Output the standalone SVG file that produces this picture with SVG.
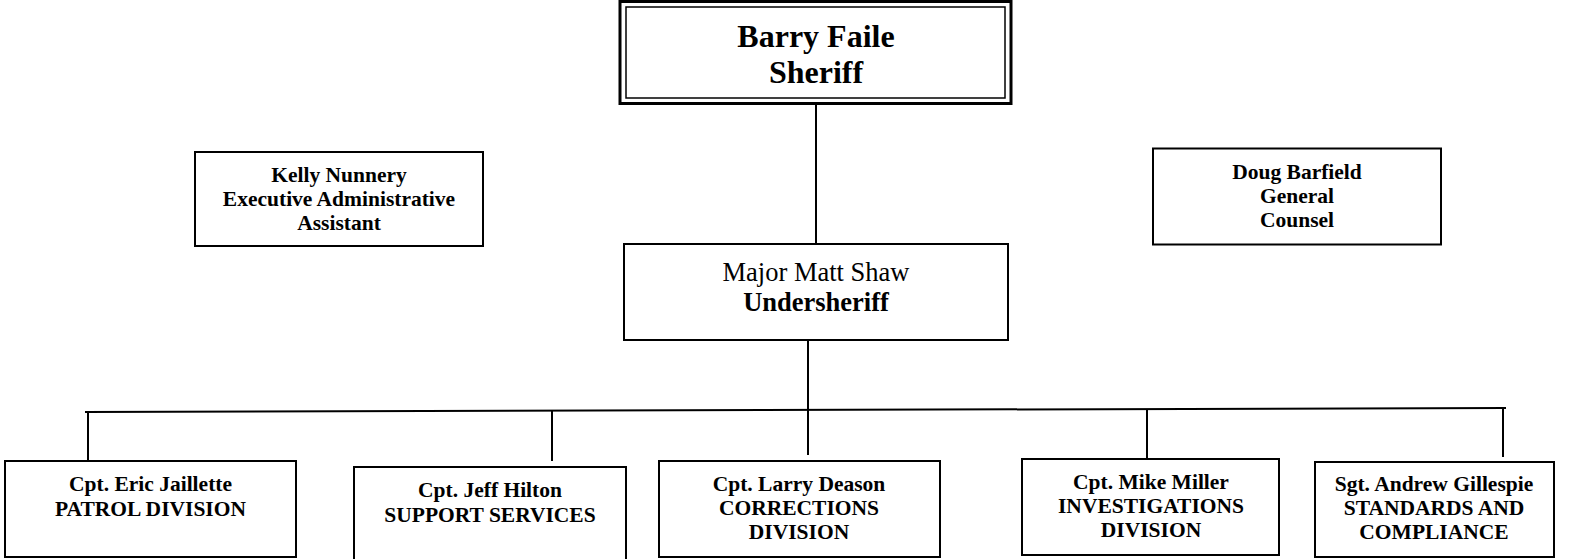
<svg xmlns="http://www.w3.org/2000/svg" width="1583" height="559" viewBox="0 0 1583 559">
<style>
.box{fill:#fff;stroke:#000;stroke-width:2}
.t{font-family:"Liberation Serif","Times New Roman",serif;font-weight:bold;font-size:21.5px;text-anchor:middle;fill:#000}
.big{font-size:32px}
.mid{font-size:26.5px}
.reg{font-weight:normal}
.ln{stroke:#000;stroke-width:2;fill:none}
</style>
<rect width="1583" height="559" fill="#fff"/>
<g id="connectors">
<line class="ln" x1="816" y1="104" x2="816" y2="244"/>
<line class="ln" x1="808" y1="340" x2="808" y2="455"/>
<line class="ln" x1="85" y1="412" x2="1506" y2="408"/>
<line class="ln" x1="88" y1="412" x2="88" y2="461"/>
<line class="ln" x1="552" y1="411" x2="552" y2="461"/>
<line class="ln" x1="1147" y1="410" x2="1147" y2="460"/>
<line class="ln" x1="1503" y1="408" x2="1503" y2="457"/>
</g>
<g id="sheriff">
<rect x="620" y="1.5" width="391" height="102" fill="#fff" stroke="#000" stroke-width="3"/>
<rect x="626" y="7" width="379" height="91" fill="none" stroke="#000" stroke-width="1.5"/>
<text class="t big" x="816" y="47">Barry Faile</text>
<text class="t big" x="816" y="83">Sheriff</text>
</g>
<g id="undersheriff">
<rect class="box" x="624" y="244" width="384" height="96"/>
<text class="t mid reg" x="816" y="281">Major Matt Shaw</text>
<text class="t mid" x="816" y="311">Undersheriff</text>
</g>
<g id="kelly">
<rect class="box" x="195" y="152" width="288" height="94"/>
<text class="t" x="339" y="182">Kelly Nunnery</text>
<text class="t" x="339" y="206">Executive Administrative</text>
<text class="t" x="339" y="230">Assistant</text>
</g>
<g id="doug">
<rect class="box" x="1153" y="148.5" width="288" height="96"/>
<text class="t" x="1297" y="179">Doug Barfield</text>
<text class="t" x="1297" y="203">General</text>
<text class="t" x="1297" y="227">Counsel</text>
</g>
<g id="patrol">
<rect class="box" x="5" y="461" width="291" height="96"/>
<text class="t" x="150.5" y="491">Cpt. Eric Jaillette</text>
<text class="t" x="150.5" y="516">PATROL DIVISION</text>
</g>
<g id="support">
<rect class="box" x="354" y="467" width="272" height="98"/>
<text class="t" x="490" y="497">Cpt. Jeff Hilton</text>
<text class="t" x="490" y="522">SUPPORT SERVICES</text>
</g>
<g id="corrections">
<rect class="box" x="659" y="461" width="281" height="96"/>
<text class="t" x="799" y="491">Cpt. Larry Deason</text>
<text class="t" x="799" y="515">CORRECTIONS</text>
<text class="t" x="799" y="539">DIVISION</text>
</g>
<g id="investigations">
<rect class="box" x="1022" y="459" width="257" height="96"/>
<text class="t" x="1151" y="489">Cpt. Mike Miller</text>
<text class="t" x="1151" y="513">INVESTIGATIONS</text>
<text class="t" x="1151" y="537">DIVISION</text>
</g>
<g id="standards">
<rect class="box" x="1315" y="462" width="239" height="95"/>
<text class="t" x="1434" y="491">Sgt. Andrew Gillespie</text>
<text class="t" x="1434" y="515">STANDARDS AND</text>
<text class="t" x="1434" y="539">COMPLIANCE</text>
</g>
</svg>
